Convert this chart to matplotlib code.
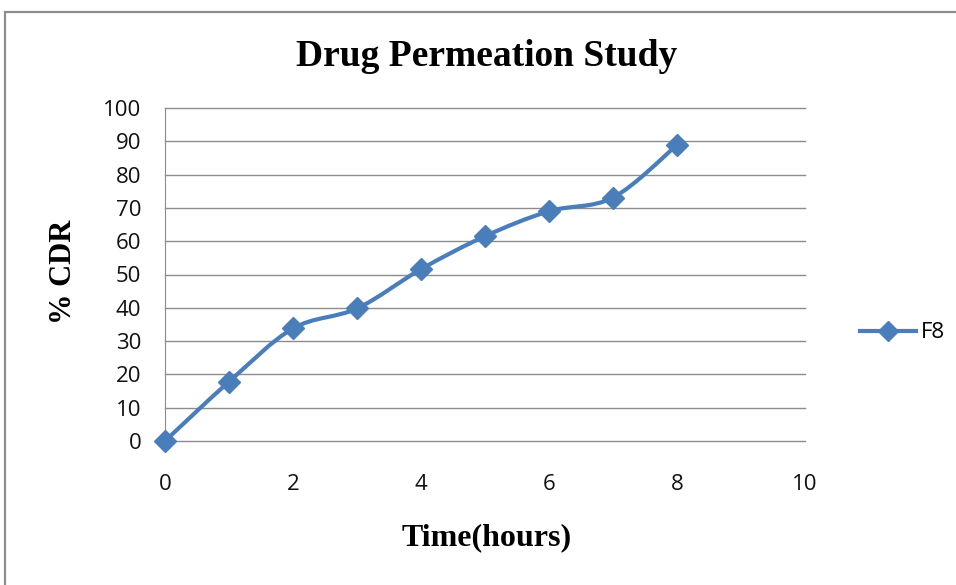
import matplotlib.pyplot as plt
import numpy as np
from matplotlib.path import Path
from matplotlib.patches import PathPatch, Rectangle
from matplotlib.lines import Line2D

time_h = np.array([0, 1, 2, 3, 4, 5, 6, 7, 8])
cdr_f8 = np.array([0, 17.8, 33.8, 39.8, 51.6, 61.5, 69.0, 73.1, 88.9])

blue = '#4A7EBB'
serif = 'Liberation Serif'
sans = 'Open Sans'

fig = plt.figure(figsize=(9.56, 5.85), dpi=100)
ax = fig.add_axes([165 / 956, 1 - 441 / 585, 640 / 956, 333 / 585])

# outer chart border
fig.patches.append(Rectangle((5 / 956, -0.1), 1.2, 1 - 12 / 585 + 0.1,
                             transform=fig.transFigure, fill=False,
                             edgecolor='#8c8c8c', linewidth=1.6))

# smoothed line like Excel (bezier through the points)
verts = [(time_h[0], cdr_f8[0])]
codes = [Path.MOVETO]
t = 1 / 6
for i in range(len(time_h) - 1):
    p0 = np.array([time_h[max(i - 1, 0)], cdr_f8[max(i - 1, 0)]])
    p1 = np.array([time_h[i], cdr_f8[i]])
    p2 = np.array([time_h[i + 1], cdr_f8[i + 1]])
    p3 = np.array([time_h[min(i + 2, len(time_h) - 1)], cdr_f8[min(i + 2, len(time_h) - 1)]])
    c1 = p1 + (p2 - p0) * t
    c2 = p2 - (p3 - p1) * t
    verts += [tuple(c1), tuple(c2), tuple(p2)]
    codes += [Path.CURVE4] * 3
ax.add_patch(PathPatch(Path(verts, codes), fill=False, edgecolor=blue,
                       linewidth=3, capstyle='round', joinstyle='round',
                       clip_on=False, zorder=3))
ax.plot(time_h, cdr_f8, linestyle='none', marker='D', markersize=11,
        color=blue, clip_on=False, zorder=4)

ax.set_xlim(0, 10)
ax.set_ylim(0, 100)
ax.set_xticks(np.arange(0, 11, 2))
ax.set_yticks(np.arange(0, 101, 10))
ax.grid(axis='y', color='#8c8c8c', linewidth=1)
for gl in ax.get_ygridlines():
    gl.set_clip_on(False)
ax.set_axisbelow(True)
for s in ['top', 'right', 'bottom']:
    ax.spines[s].set_visible(False)
ax.spines['left'].set_color('#8c8c8c')
ax.tick_params(length=0, labelsize=16, labelcolor='#111111')
ax.tick_params(axis='x', pad=24)
ax.tick_params(axis='y', pad=17)
for lab in ax.get_xticklabels() + ax.get_yticklabels():
    lab.set_fontfamily(sans)

fig.text(487 / 956, 1 - 57 / 585, 'Drug Permeation Study', ha='center', va='center',
         fontfamily=serif, fontweight='bold', fontsize=27)
fig.text(487 / 956, 1 - 538 / 585, 'Time(hours)', ha='center', va='center',
         fontfamily=serif, fontweight='bold', fontsize=23)
fig.text(64 / 956, 1 - 272 / 585, '% CDR', ha='center', va='center', rotation=90,
         fontfamily=serif, fontweight='bold', fontsize=22)

handle = Line2D([], [], color=blue, linewidth=3, marker='D', markersize=10)
fig.legend([handle], ['F8'], loc='center left', bbox_to_anchor=(860 / 956, 1 - 333 / 585),
           frameon=False, handlelength=2.5, handletextpad=0.25, borderpad=0,
           borderaxespad=0, prop={'family': sans, 'size': 16})

fig.savefig('out.png', dpi=100)
